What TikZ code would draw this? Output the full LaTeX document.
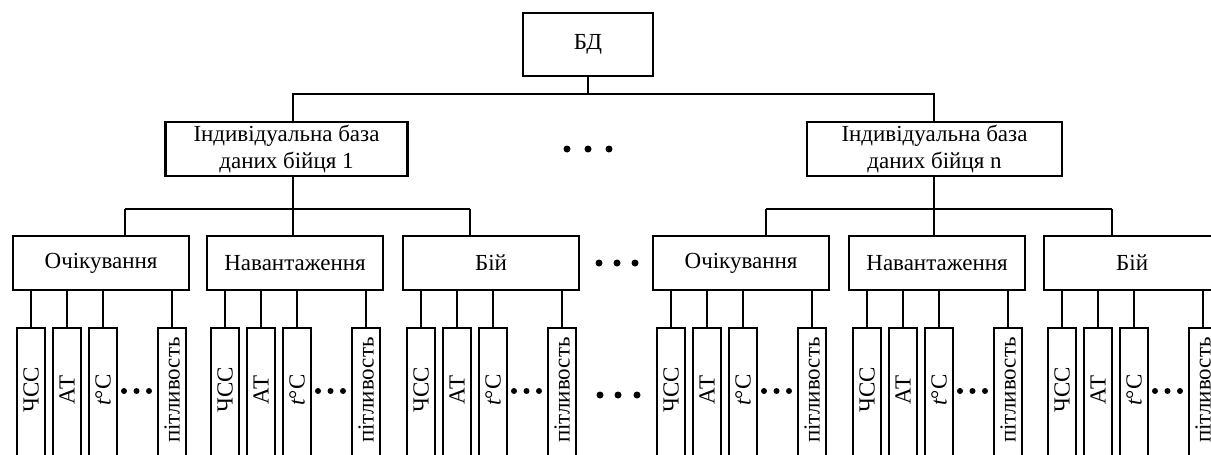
\documentclass[tikz,border=0pt]{standalone}
\usepackage{fontspec}
\setmainfont{Liberation Serif}
\usepackage{tikz}
\usetikzlibrary{calc}

\begin{document}
\begin{tikzpicture}[x=0.5pt,y=-0.5pt,line width=1.1pt,
  box/.style={draw,inner sep=0pt,font=\fontsize{11.5}{13.5}\selectfont},
  leaf/.style={draw,inner sep=0pt,minimum width=14pt,minimum height=72pt},
  vtext/.style={rotate=90,inner sep=0pt,font=\fontsize{11.5}{13.5}\selectfont}]
\useasboundingbox (0,0) rectangle (1211,455);
\clip (0,0) rectangle (1211,455);
\pgfmathsetmacro\ybus{94}
\pgfmathsetmacro\ygr{209}
\node[box,minimum width=65pt,minimum height=31.5pt] (BD) at (588,44.5) {БД};
\node[box,minimum width=121pt,minimum height=27pt,align=center] (I1) at (286.5,149) {Індивідуальна база\\даних бійця 1};
\node[box,minimum width=127.5pt,minimum height=27pt,align=center] (In) at (934.5,149) {Індивідуальна база\\даних бійця n};
\coordinate (T1) at (293,\ybus);
\coordinate (Tn) at (934,\ybus);
\coordinate (G1) at (293,\ygr);
\coordinate (Gn) at (934,\ygr);
\draw (BD.south) -- (BD.south |- T1);
\draw (I1.north -| T1) -- (T1) -- (Tn) -- (In.north -| Tn);
\draw (I1.south -| G1) -- (G1);
\draw (In.south -| Gn) -- (Gn);
\foreach \g/\l/\c/\t in {Och1/12/113/Очікування, Nav1/206/87/Навантаження, Bij1/402/68/Бій,
                         Och2/652/114/Очікування, Nav2/848/86/Навантаження, Bij2/1043/69/Бій}{
  \node[box,minimum width=88pt,minimum height=27pt,anchor=north west] (\g) at (\l,235) {\t};
  \coordinate (\g-in) at (\l+\c,\ygr);
  \draw (\g-in) -- (\g-in |- \g.north);
  \foreach \i/\dx/\s in {1/19/ЧСС, 2/55/АТ, 3/91/{{\itshape t}°C}, 4/160/пітливость}{
    \node[leaf,anchor=north] (\g-\i) at (\l+\dx,327) {};
    \node[vtext] (\g-\i-t) at (\l+\dx,390) {\s};
    \draw (\g.south -| \g-\i) -- (\g-\i.north);
  }
  \foreach \d in {112,124.5,137} \fill (\l+\d,391) circle (1.5pt);
}
\draw (Och1-in) -- (Bij1-in);
\draw (Och2-in) -- (Bij2-in);
\foreach \x in {567,588,609} \fill (\x,149) circle (1.75pt);
\foreach \x in {599,617,635} \fill (\x,263) circle (1.75pt);
\foreach \x in {600,618,637} \fill (\x,395) circle (1.75pt);
\end{tikzpicture}
\end{document}
